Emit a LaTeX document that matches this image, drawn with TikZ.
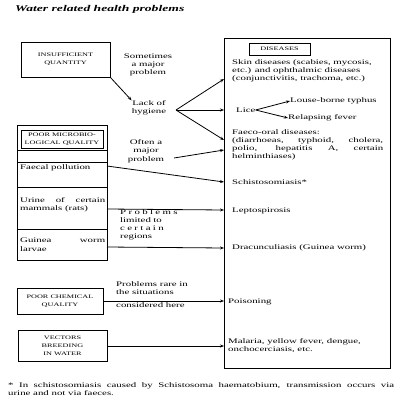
\documentclass[tikz,border=0pt]{standalone}
\usepackage{fontspec}
\setmainfont[FakeStretch=1.55]{Liberation Serif}
\usetikzlibrary{arrows.meta}

\tikzset{
  body/.style={font=\fontsize{7}{8.3}\selectfont, inner sep=0pt, align=left, anchor=north west},
  mid/.style={font=\fontsize{7}{8.3}\selectfont, inner sep=0pt, align=center},
  capbox/.style={draw, line width=0.9pt, font=\fontsize{5.3}{8}\selectfont, inner sep=0pt, align=center},
  frame/.style={draw, line width=0.9pt, inner sep=0pt},
  link/.style={line width=0.8pt},
  arr/.style={link, -{Stealth[length=4pt,width=3pt]}},
}

\begin{document}
\begin{tikzpicture}[x=1pt,y=-1pt]
\useasboundingbox (0,0) rectangle (400,400);
\fill[white] (0,0) rectangle (400,400);

% title
\node[font=\fontsize{8.8}{10}\selectfont\bfseries\itshape, anchor=west, inner sep=0pt] (title) at (15,9) {Water related health problems};

% ---------- left column: causes ----------
\node[capbox, minimum width=89pt, minimum height=35pt] (insuf) at (65.5,59.5) {INSUFFICIENT\\QUANTITY};

\node[frame, minimum width=90pt, minimum height=135pt, anchor=north west] (micro) at (17,125) {};
\node[draw, line width=0.7pt, font=\fontsize{5.3}{8}\selectfont, inner sep=0pt, align=center,
      minimum width=82pt, minimum height=18pt] (microhead) at (62,139) {POOR MICROBIO-\\LOGICAL QUALITY};
\node[frame, minimum width=90pt, minimum height=12pt, anchor=north west] (blankrow) at (17,150) {};
\node[frame, minimum width=90pt, minimum height=25pt, anchor=north west] (faecalrow) at (17,162) {};
\node[frame, minimum width=90pt, minimum height=42pt, anchor=north west] (urinerow) at (17,187) {};
\node[frame, minimum width=90pt, minimum height=31pt, anchor=north west] (guinearow) at (17,229) {};

\node[body, anchor=west] (faecal) at (20,168) {Faecal pollution};
\node[body] (urine) at (20,197) {\makebox[85pt][s]{Urine of certain}\\mammals (rats)};
\node[body] (guinea) at (20,238) {\makebox[85pt][s]{Guinea worm}\\larvae};

\node[capbox, minimum width=86pt, minimum height=26pt] (chem) at (60,301) {POOR CHEMICAL\\QUALITY};
\node[capbox, minimum width=89pt, minimum height=31pt] (vect) at (62.5,345.5) {VECTORS\\BREEDING\\IN WATER};

% ---------- middle: qualifying remarks ----------
\node[mid] (some) at (148,65) {Sometimes\\a major\\problem};
\node[mid] (lack) at (149,108) {Lack of\\hygiene};
\node[mid] (often) at (146,151) {Often a\\major\\problem};
\node[body, text width=57pt] (limited) at (120,209) {\makebox[57pt][s]{P r o b l e m s}\\\makebox[57pt][s]{limited to}\\\makebox[57pt][s]{c e r t a i n}\\regions};
\node[body] (rare) at (116,281) {Problems rare in\\the situations\\[5pt]considered here};

% ---------- right column: diseases ----------
\node[frame, minimum width=166pt, minimum height=330pt, anchor=north west] (dis) at (224,38) {};
\node[draw, line width=0.7pt, font=\fontsize{5.3}{8}\selectfont, inner sep=0pt,
      minimum width=61pt, minimum height=12pt] (dishead) at (279.5,49) {DISEASES};

\node[body] (skin) at (232,59) {Skin diseases (scabies, mycosis,\\etc.) and ophthalmic diseases\\(conjunctivitis, trachoma, etc.)};
\node[body, anchor=west] (lice) at (236,110) {Lice};
\node[body, anchor=west] (typhus) at (290,101) {Louse-borne typhus};
\node[body, anchor=west] (relapse) at (288,118) {Relapsing fever};
\node[body] (faeco) at (232,129) {Faeco-oral diseases:\\\makebox[151pt][s]{(diarrhoeas, typhoid, cholera,}\\\makebox[151pt][s]{polio, hepatitis A, certain}\\helminthiases)};
\node[body, anchor=west] (schisto) at (232,182) {Schistosomiasis*};
\node[body, anchor=west] (lepto) at (232,211) {Leptospirosis};
\node[body, anchor=west] (dracun) at (232,248) {Dracunculiasis (Guinea worm)};
\node[body, anchor=west] (poison) at (228,302) {Poisoning};
\node[body] (malaria) at (228,338) {Malaria, yellow fever, dengue,\\onchocerciasis, etc.};

% footnote
\node[body] (note) at (8,382) {\makebox[386pt][s]{* In schistosomiasis caused by Schistosoma haematobium, transmission occurs via}\\urine and not via faeces.};

% ---------- connector end points ----------
\coordinate (apex) at (176,110);
\coordinate (toSkin) at (224,79);
\coordinate (toLice) at (224,110);
\coordinate (toFaeco) at (224,140);
\coordinate (toFaeco2) at (224,150);
\coordinate (oftenOut) at (174,158);
\coordinate (faecalOut) at (107,166);
\coordinate (toSchisto) at (224,182);
\coordinate (urineOut) at (107,209);
\coordinate (toLepto) at (224,210);
\coordinate (guineaOut) at (107,247);
\coordinate (toDracun) at (224,248);
\coordinate (toPoison) at (224,301);
\coordinate (toMalaria) at (224,346);

% ---------- connectors ----------
\draw[arr] (insuf.south east) -- (lack.north west);
\draw[arr] (apex) -- (toSkin);
\draw[arr] (apex) -- (toLice);
\draw[arr] (apex) -- (toFaeco);
\draw[arr] (oftenOut) -- (toFaeco2);
\draw[arr] (lice.east) -- (typhus.west);
\draw[arr] (lice.east) -- (relapse.west);
\draw[arr] (faecalOut) -- (toSchisto);
\draw[arr] (urineOut) -- (toLepto);
\draw[arr] (guineaOut) -- (toDracun);
\draw[arr] (chem.east) -- (toPoison);
\draw[arr] (vect.east |- toMalaria) -- (toMalaria);
\end{tikzpicture}
\end{document}
